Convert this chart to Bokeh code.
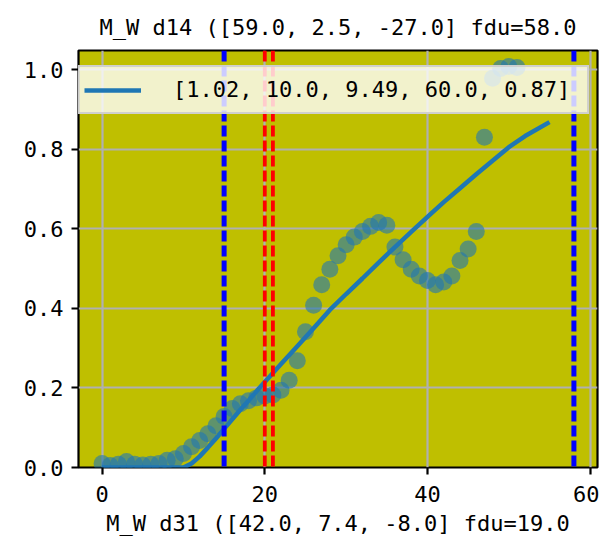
from bokeh.plotting import figure
from bokeh.models import (ColumnDataSource, Span, FixedTicker, Legend, LegendItem,
                          Range1d, PrintfTickFormatter)
from bokeh.embed import file_html
from bokeh.resources import INLINE

# ---- data ----
pts_x = list(range(0, 52))
pts_y = [0.010, 0.005, 0.008, 0.015, 0.008, 0.006, 0.008, 0.010, 0.018, 0.022,
         0.035, 0.052, 0.068, 0.085, 0.105, 0.128, 0.148, 0.160, 0.168, 0.175,
         0.180, 0.182, 0.194, 0.219, 0.268, 0.341, 0.408, 0.459, 0.498, 0.532,
         0.560, 0.579, 0.593, 0.606, 0.616, 0.609, 0.554, 0.522, 0.498, 0.481,
         0.470, 0.459, 0.466, 0.481, 0.520, 0.549, 0.593, 0.830, 0.978, 1.003,
         1.008, 1.005]

fit_x = [0, 2, 4, 6, 8, 10, 11, 12, 13, 14, 15, 16, 17, 18, 19, 20, 22, 24, 26,
         28, 30, 32, 34, 36, 38, 40, 42, 44, 46, 48, 50, 52, 55]
fit_y = [0, 0, 0, 0, 0, 0, 0.010, 0.028, 0.050, 0.073, 0.097, 0.121, 0.145, 0.168,
         0.192, 0.215, 0.260, 0.305, 0.350, 0.396, 0.436, 0.475, 0.515, 0.554,
         0.592, 0.630, 0.667, 0.702, 0.737, 0.771, 0.805, 0.833, 0.868]

fit_label = "[1.02, 10.0, 9.49, 60.0, 0.87]"
title_text = "M_W d14 ([59.0, 2.5, -27.0] fdu=58.0"
xlabel_text = "M_W d31 ([42.0, 7.4, -8.0] fdu=19.0"

blue_lines = [15, 58]
red_lines = [20, 21]

x_ticks = [0, 20, 40, 60]
y_ticks = [0.0, 0.2, 0.4, 0.6, 0.8, 1.0]

FONT = "DejaVu Sans Mono"
FS = "22px"

p = figure(width=599, height=540, output_backend="svg", toolbar_location=None,
           x_range=Range1d(-2.9, 60.9), y_range=Range1d(0, 1.048),
           min_border_left=78, min_border_right=2, min_border_top=50, min_border_bottom=73)

p.background_fill_color = "#bfbf00"
p.border_fill_color = "white"
p.outline_line_color = "black"
p.outline_line_width = 2.2

p.title.text = title_text
p.title.align = "center"
p.title.text_font = FONT
p.title.text_font_size = FS
p.title.text_font_style = "normal"
p.title.text_color = "black"
p.title.standoff = 22

for ax in (p.xaxis[0], p.yaxis[0]):
    ax.major_label_text_font = FONT
    ax.major_label_text_font_size = FS
    ax.major_label_text_color = "black"
    ax.axis_line_color = None
    ax.major_tick_line_color = "black"
    ax.major_tick_line_width = 2.2
    ax.major_tick_out = 7
    ax.major_tick_in = 0
    ax.minor_tick_line_color = None

p.xaxis.ticker = FixedTicker(ticks=x_ticks)
p.yaxis.ticker = FixedTicker(ticks=y_ticks)
p.yaxis.formatter = PrintfTickFormatter(format="%.1f")
p.xaxis.axis_label = xlabel_text
p.xaxis.axis_label_text_font = FONT
p.xaxis.axis_label_text_font_size = FS
p.xaxis.axis_label_text_font_style = "normal"
p.xaxis.axis_label_text_color = "black"
p.xaxis.axis_label_standoff = 6
p.xaxis.major_label_standoff = 11
p.yaxis.major_label_standoff = 8

p.xgrid.grid_line_color = "#b0b0b0"
p.ygrid.grid_line_color = "#b0b0b0"
p.xgrid.grid_line_width = 2.2
p.ygrid.grid_line_width = 2.2

for xv in blue_lines:
    p.add_layout(Span(location=xv, dimension="height", line_color="#0000ff",
                      line_width=5, line_dash="11 4"))
for xv in red_lines:
    p.add_layout(Span(location=xv, dimension="height", line_color="#ff0000",
                      line_width=3.8, line_dash="11 4"))

src = ColumnDataSource(dict(x=pts_x, y=pts_y))
p.scatter("x", "y", source=src, size=17, fill_color="#1f77b4", fill_alpha=0.6,
          line_color=None)

fsrc = ColumnDataSource(dict(x=fit_x, y=fit_y))
r_line = p.line("x", "y", source=fsrc, line_color="#1f77b4", line_width=4.5)

legend = Legend(items=[LegendItem(label=fit_label, renderers=[r_line])],
                location=(-6, 353), margin=0, padding=10,
                glyph_width=57, glyph_height=24, label_height=24, label_width=404,
                label_standoff=32, label_text_color="black",
                label_text_font=FONT, label_text_font_size=FS,
                background_fill_color="white", background_fill_alpha=0.8,
                border_line_color="#cccccc", border_line_width=2.2,
                border_line_alpha=0.9)
p.add_layout(legend, "center")

open("out.html", "w").write(file_html(p, INLINE))
